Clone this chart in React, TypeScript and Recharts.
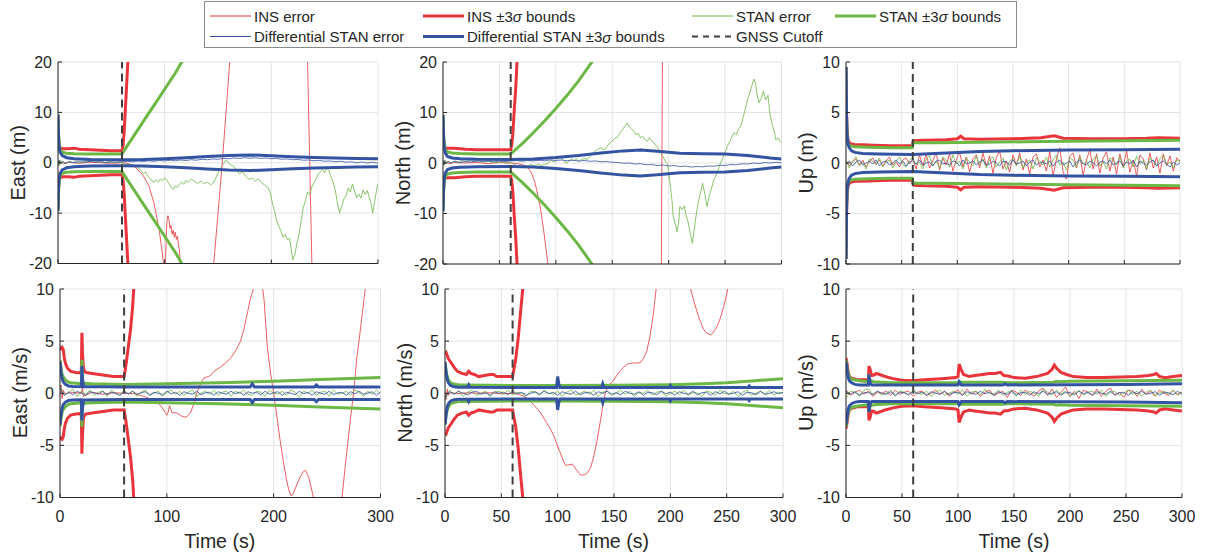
import React from 'react';
import { LineChart, Line, XAxis, YAxis, CartesianGrid, ReferenceLine } from 'recharts';

// ---------- ticks & constants ----------
const posTicksEN = [-20, -10, 0, 10, 20];
const tenTicks = [-10, -5, 0, 5, 10];
const timeTicksCoarse = [0, 100, 200, 300];
const timeTicksFine = [0, 50, 100, 150, 200, 250, 300];
const GNSS_CUTOFF = 60;

type Pair = [number, number];

// ---------- East position (m) ----------
const eastPosInsBound: Pair[] = [[0,9],[0.5,5],[1,3.5],[2,3.0],[4,2.8],[10,2.8],[15,2.9],[20,2.7],[30,2.6],[40,2.5],[50,2.4],[60,2.4],[61,3.5],[62,6],[63,10],[64,14],[65.5,20],[67,28],[70,40]];
const eastPosStanBound: Pair[] = [[0,9.6],[0.5,6],[1,4],[2,2.6],[4,2.1],[8,1.9],[15,1.8],[30,1.75],[60,1.75],[65,3.4],[70,5.0],[80,8.2],[90,11.4],[100,14.6],[110,17.8],[116,20],[125,23],[140,28]];
const eastPosDiffBound: Pair[] = [[0,9.5],[0.5,5],[1,3.2],[2,2.1],[4,1.4],[8,1.0],[15,0.8],[30,0.65],[60,0.6],[80,0.65],[100,0.8],[120,1.0],[140,1.25],[160,1.45],[180,1.55],[200,1.4],[220,1.2],[240,1.05],[260,0.95],[280,0.85],[300,0.8]];
const eastPosInsErr: Pair[] = [[0,0.3],[1,-0.5],[2,0.4],[5,-0.2],[10,0.1],[20,-0.1],[30,0.1],[40,0],[50,-0.1],[60,0],[65,-0.1],[70,-0.5],[75,-1.4],[80,-2.6],[85,-4.5],[90,-8],[95,-13.5],[99,-20],[100,-24],[101,-18],[102,-12],[103,-10.5],[104,-11.2],[105,-13],[106,-12.4],[107,-14.2],[108,-13.4],[109,-14.8],[110,-13.8],[111,-15.2],[112,-14.6],[113,-16.5],[114,-17.5],[115,-23],[120,-45],[140,-45],[146,-20],[154,0],[161,20],[166,45],[228,45],[234,20],[236,0],[238,-20],[242,-45],[300,-60]];
const eastPosStanErr: Pair[] = [[0,0.3],[1,-0.6],[2,0.5],[3,-0.3],[5,0.2],[8,-0.2],[11,0.3],[14,0.0],[17,0.4],[20,-0.1],[24,0.3],[28,0.1],[32,0.5],[36,0.2],[40,0.4],[44,0.0],[48,0.3],[52,-0.1],[56,0.2],[60,0.0],[64,-0.3],[68,-0.4],[72,-0.6],[75,-1.0],[78,-1.6],[80,-2.2],[82,-1.8],[84,-2.6],[86,-3.0],[88,-3.6],[90,-3.9],[92,-3.4],[94,-3.8],[96,-3.2],[98,-3.6],[100,-3.0],[102,-3.4],[104,-4.2],[106,-4.8],[108,-5.3],[110,-4.6],[112,-4.9],[114,-4.2],[116,-3.8],[118,-4.3],[120,-3.5],[122,-3.9],[125,-3.2],[128,-3.7],[131,-4.1],[134,-3.6],[137,-4.2],[140,-3.8],[143,-4.4],[146,-3.9],[149,-2.5],[152,-1.2],[155,-0.3],[157,0.5],[159,0.2],[161,-0.3],[164,-0.6],[167,-1.3],[170,-2.2],[173,-1.8],[176,-2.7],[179,-3.3],[182,-3.0],[185,-3.6],[188,-3.2],[191,-4.0],[194,-4.5],[197,-4.9],[199,-6.0],[201,-8.0],[203,-9.5],[205,-11.5],[207,-12.6],[209,-13.5],[211,-14.8],[213,-14.2],[215,-15.3],[217,-15.0],[219,-17.5],[220,-19.3],[222,-18.2],[224,-16.0],[226,-14.2],[228,-11.5],[230,-8.8],[232,-7.5],[234,-5.8],[236,-6.3],[238,-4.8],[240,-4.0],[242,-3.2],[244,-2.2],[246,-1.8],[248,-1.3],[250,-2.0],[252,-1.0],[254,-1.6],[256,-2.8],[258,-3.9],[260,-5.5],[262,-8.0],[264,-10.0],[266,-8.6],[268,-7.2],[270,-6.6],[272,-5.0],[274,-5.8],[276,-4.2],[278,-5.6],[280,-6.9],[282,-6.2],[284,-7.0],[286,-5.4],[288,-6.3],[290,-5.5],[292,-7.0],[294,-8.5],[295,-10.0],[297,-7.5],[299,-5.0],[300,-4.2]];
const eastPosDiffErr: Pair[] = [[0,-0.3],[1,0.5],[2,-0.2],[4,0.3],[7,-0.1],[10,0.2],[15,0.0],[20,0.2],[25,0.1],[30,0.3],[35,0.1],[40,0.2],[45,0.0],[50,0.2],[55,0.1],[60,0.2],[65,0.3],[70,0.2],[75,0.35],[80,0.25],[85,0.4],[90,0.3],[95,0.45],[100,0.35],[105,0.5],[110,0.4],[115,0.55],[120,0.45],[125,0.6],[130,0.5],[135,0.7],[140,0.6],[145,0.75],[150,0.7],[155,0.85],[160,0.8],[165,0.95],[170,0.85],[175,1.0],[180,0.9],[185,1.0],[190,0.85],[195,0.95],[200,0.8],[205,0.85],[210,0.7],[215,0.75],[220,0.6],[225,0.65],[230,0.5],[235,0.55],[240,0.4],[245,0.45],[250,0.3],[255,0.35],[260,0.2],[265,0.3],[270,0.1],[275,0.2],[280,0.0],[285,0.15],[290,-0.05],[295,0.1],[300,-0.1]];

// ---------- North position (m) ----------
const northPosInsBound: Pair[] = [[0,9],[0.5,5],[1,3.6],[2,3.0],[4,2.9],[10,2.9],[20,2.7],[30,2.6],[45,2.6],[60,2.6],[61,3.6],[62,6],[63,10],[64.5,15],[65.6,20],[68,32],[70,42]];
const northPosStanBound: Pair[] = [[0,9.6],[0.5,6],[1,4],[2,2.6],[4,2.2],[8,2.0],[15,1.9],[30,1.8],[60,1.8],[65,2.8],[70,3.8],[80,6.0],[90,8.3],[100,10.8],[110,13.4],[120,16.2],[132,20],[145,24.5]];
const northPosDiffBound: Pair[] = [[0,9.5],[0.5,5],[1,3.2],[2,2.0],[4,1.3],[8,1.0],[15,0.85],[30,0.75],[60,0.7],[80,0.8],[100,1.1],[120,1.5],[140,2.0],[160,2.4],[175,2.55],[190,2.35],[210,1.95],[230,1.85],[250,1.8],[270,1.5],[290,1.0],[300,0.8]];
const northPosInsErr: Pair[] = [[0,0.2],[1,-0.4],[2,0.3],[5,-0.1],[10,0.1],[20,0],[30,0.1],[40,-0.1],[50,0.1],[60,0],[65,-0.1],[70,-0.3],[74.5,-0.7],[78,-1.8],[81,-3.5],[83,-5.3],[86,-8.5],[89,-13],[91,-16.5],[93,-20],[96,-30],[100,-45],[190,-45],[193.5,-20],[194,0],[194.5,20],[196,45],[300,60]];
const northPosStanErr: Pair[] = [[0,0.4],[1,-0.5],[2,0.6],[3,-0.2],[5,0.3],[8,0.0],[11,0.4],[14,0.1],[17,0.5],[20,0.2],[24,0.6],[28,0.3],[32,0.5],[36,0.1],[40,0.4],[44,0.2],[48,0.0],[52,0.3],[56,-0.1],[60,0.1],[63,-0.3],[66,-0.6],[69,-0.8],[72,-0.5],[75,-0.7],[78,-0.3],[81,-0.6],[84,-0.2],[87,-0.5],[90,-0.3],[93,0.0],[96,0.5],[99,0.2],[102,1.0],[104,1.3],[106,0.6],[108,0.2],[110,0.0],[112,0.5],[114,0.8],[116,0.4],[118,0.9],[120,0.3],[122,0.6],[125,0.9],[128,0.7],[131,1.5],[134,2.2],[137,2.7],[140,3.0],[143,2.6],[146,3.5],[149,4.2],[152,4.8],[155,5.2],[157,6.0],[159,6.6],[161,7.2],[163,7.9],[165,7.2],[167,6.8],[169,6.3],[171,5.6],[173,5.9],[175,5.0],[177,5.3],[179,4.6],[181,4.3],[183,5.0],[185,4.4],[187,4.0],[189,3.5],[191,2.8],[193,2.0],[195,1.2],[197,0.4],[199,-0.3],[201,-3.5],[203,-7.5],[204,-10.6],[206,-12.2],[207.5,-13.6],[209,-11.5],[210,-8.6],[212,-9.2],[214,-8.5],[215,-10.0],[217,-11.5],[219,-13.8],[221,-15.9],[223,-12.5],[225,-9.3],[227,-7.0],[229,-5.2],[230,-4.0],[232,-6.0],[234,-8.6],[236,-6.5],[238,-5.0],[240,-3.3],[242,-2.5],[244,-1.2],[246,0.0],[248,1.0],[250,2.0],[252,3.3],[254,4.2],[256,5.2],[258,6.0],[260,5.6],[262,6.8],[264,7.3],[266,9.0],[268,10.8],[270,12.6],[272,14.0],[274,15.5],[275.5,16.6],[277,15.8],[278,14.0],[280,11.9],[282,12.8],[284,14.2],[286,12.5],[288,13.4],[290,9.3],[292,7.5],[294,5.8],[295,4.6],[297,5.0],[299,4.2],[300,4.0]];
const northPosDiffErr: Pair[] = [[0,-0.4],[1,0.5],[2,-0.2],[4,0.3],[7,0.0],[10,0.3],[15,0.1],[20,0.3],[25,0.2],[30,0.4],[35,0.3],[40,0.4],[45,0.2],[50,0.4],[55,0.3],[60,0.4],[65,0.5],[70,0.35],[75,0.5],[80,0.4],[85,0.55],[90,0.45],[95,0.6],[100,0.5],[105,0.6],[110,0.45],[115,0.55],[120,0.4],[125,0.5],[130,0.35],[135,0.4],[140,0.25],[145,0.3],[150,0.15],[155,0.1],[160,-0.05],[165,0.0],[170,-0.2],[175,-0.15],[180,-0.35],[185,-0.3],[190,-0.5],[195,-0.4],[200,-0.6],[205,-0.5],[210,-0.7],[215,-0.6],[220,-0.8],[225,-0.7],[230,-0.75],[235,-0.6],[240,-0.65],[245,-0.45],[250,-0.5],[255,-0.3],[260,-0.35],[265,-0.15],[270,-0.2],[275,0.0],[280,-0.1],[285,0.1],[290,0.0],[295,0.15],[300,0.05]];

// ---------- Up position (m) ----------
const upPosInsBound: Pair[] = [[0,9.5],[0.5,5],[1,3],[2,2.2],[4,1.9],[8,1.8],[15,1.8],[25,1.75],[40,1.7],[59.5,1.7],[60,2.0],[61,2.2],[70,2.25],[90,2.3],[100,2.4],[103,2.65],[106,2.4],[120,2.35],[150,2.4],[175,2.5],[187,2.7],[195,2.45],[220,2.4],[250,2.4],[270,2.45],[280,2.5],[300,2.45]];
const upPosStanBound: Pair[] = [[0,9.5],[0.5,4.5],[1,2.6],[2,1.9],[4,1.7],[8,1.6],[20,1.55],[40,1.5],[59.5,1.5],[60,1.8],[61,2.0],[80,2.0],[120,2.05],[160,2.1],[200,2.15],[250,2.2],[300,2.25]];
const upPosDiffBound: Pair[] = [[0,9.5],[0.5,4.5],[1,2.6],[2,1.8],[3,1.5],[5,1.2],[8,1.05],[15,0.95],[30,0.9],[60,0.85],[80,0.95],[100,1.05],[120,1.15],[150,1.22],[200,1.28],[250,1.3],[300,1.35]];
const upPosInsErr = [0.2,-0.3,0.1,0.4,-0.2,0.3,-0.4,0.1,0.5,-0.1,0.3,-0.3,0.2,0.6,-0.2,0.1,-0.4,0.3,0.5,-0.1,
  0.4,-0.6,0.8,-0.3,0.9,-0.5,0.2,1.0,-0.7,0.5,-0.2,0.9,-0.8,0.3,1.1,-0.4,0.6,-0.9,0.4,0.8,
  -0.5,1.0,-0.3,0.7,-1.0,0.5,1.2,-0.6,0.2,-0.9,0.8,-0.2,1.0,-0.7,0.4,-1.1,0.6,0.9,-0.4,0.3,
  -0.8,1.1,-1.3,0.4,1.5,-0.9,-1.6,0.7,1.0,-0.5,0.8,-1.2,0.3,1.3,-0.6,0.9,-1.0,0.5,1.1,-0.8,
  0.6,-1.1,0.9,-0.4,1.2,-0.9,0.3,-1.3,0.8,0.4,-0.7,1.0,-0.5,0.6,-1.0,0.9,-0.3,0.7,-0.8,0.5,0.2];
const upPosStanErr = [0.3,-0.5,0.2,0.6,-0.3,0.1,-0.6,0.4,0.2,-0.2,0.5,-0.4,0.1,0.3,-0.5,0.2,0.6,-0.1,-0.4,0.3,
  0.5,-0.2,0.1,-0.6,0.4,0.7,-0.3,0.2,-0.5,0.6,0.3,-0.4,0.8,-0.1,0.2,-0.6,0.5,0.1,-0.3,0.7,
  -0.2,0.4,-0.5,0.3,0.6,-0.4,0.1,0.5,-0.7,0.2,0.4,-0.3,0.7,-0.5,0.1,0.3,-0.6,0.5,0.2,-0.2,
  0.6,-0.4,0.3,0.8,-0.2,0.1,-0.7,0.5,0.3,-0.4,0.6,-0.1,0.2,-0.5,0.4,0.7,-0.3,0.1,-0.6,0.5,
  0.3,-0.2,0.6,-0.5,0.2,0.4,-0.4,0.7,-0.1,0.3,-0.6,0.5,0.2,-0.3,0.4,0.8,-0.2,0.1,-0.5,0.3,0.1];
const upPosDiffErr = [-0.1,0.2,-0.3,0.1,0.3,-0.2,0.0,0.2,-0.1,0.3,-0.3,0.1,0.2,-0.2,0.0,0.3,-0.1,0.2,-0.3,0.1,
  0.2,-0.1,0.3,-0.2,0.0,0.1,-0.3,0.2,0.3,-0.1,0.0,-0.2,0.2,0.1,-0.3,0.3,-0.1,0.0,0.2,-0.2,
  0.1,0.3,-0.2,-0.1,0.2,0.0,-0.3,0.2,0.1,-0.2,0.3,-0.1,0.0,0.2,-0.3,0.1,0.3,-0.2,0.0,0.1,
  -0.1,0.2,-0.3,0.1,0.3,-0.2,0.0,0.2,-0.4,0.1,0.3,-0.1,-0.2,0.2,0.0,-0.3,0.1,0.2,-0.1,0.3,
  -0.2,0.0,0.2,-0.3,0.1,-0.1,0.3,-0.4,0.2,0.0,-0.2,0.1,0.3,-0.3,0.0,0.2,-0.1,-0.4,0.1,-0.2,0.0];

// ---------- East velocity (m/s) ----------
const eastVelInsBound: Pair[] = [[0,4.5],[1,4.3],[2,4.4],[3,4.2],[4,3.4],[5,2.9],[7,2.4],[10,2.1],[15,2.0],[19,1.95],[20,2.2],[20.5,5.8],[21,4],[22,2.3],[24,2.0],[30,1.9],[40,1.75],[50,1.6],[60,1.6],[61,2.2],[62,2.9],[64,4.5],[66,6.1],[68,8.3],[69,10],[72,15]];
const eastVelStanBound: Pair[] = [[0,3.2],[1,2.4],[2,1.8],[4,1.4],[7,1.1],[10,1.0],[15,0.95],[20,0.9],[20.5,3.2],[21,1.2],[22,0.95],[30,0.9],[60,0.85],[100,0.9],[150,1.0],[200,1.15],[250,1.35],[300,1.5]];
const eastVelDiffBound: Pair[] = [[0,3.0],[1,2.0],[2,1.4],[3,1.1],[5,0.85],[8,0.7],[12,0.65],[20,0.62],[20.5,2.6],[21,1.5],[22,0.65],[60,0.6],[120,0.6],[178,0.6],[180,0.9],[182,0.6],[238,0.6],[240,0.8],[242,0.6],[300,0.6]];
const eastVelInsErr: Pair[] = [[0,0],[1,0.8],[2,-0.5],[3,0.3],[5,-0.1],[10,0.1],[20,0],[21,0.5],[22,-0.3],[30,0.1],[40,-0.1],[50,0.05],[60,0],[70,-0.05],[75,-0.2],[80,-0.35],[85,-0.55],[91,-0.8],[95,-1.3],[97,-1.6],[100,-2.1],[101,-1.9],[102.5,-1.2],[104,-1.6],[105,-1.9],[108,-1.85],[111,-2.0],[114,-2.2],[117,-2.3],[119,-2.2],[122,-1.9],[125,-1.1],[128,0.0],[131,0.8],[134.5,1.45],[137,1.55],[139,1.6],[141,1.7],[144,2.1],[147,2.3],[150,2.5],[155,2.9],[160,3.4],[165,4.2],[169,5.0],[172,6.1],[175,7.5],[178,9.0],[182,10.3],[186,10.8],[189,10.5],[191,9.0],[194,4.5],[197,2.0],[200,0.0],[203,-2.2],[206,-4.5],[209,-6.5],[212,-8.3],[214,-9.2],[216,-9.8],[218,-9.7],[220,-9.2],[222,-8.7],[225,-8.0],[228,-7.5],[230,-7.4],[232.7,-8.0],[235,-9.0],[237,-9.9],[240,-11.5],[245,-13.5],[250,-14],[255,-13.5],[260,-12],[264,-10],[267,-7.0],[270,-4.2],[274.7,0],[278,3.5],[282,6.8],[285.7,10],[290,14]];
const eastVelStanErr = [0.8,-0.2,0.1,0.4,-0.3,0.2,-0.1,0.3,-0.2,0.1,0.2,-0.3,0.3,0.0,-0.2,0.3,-0.1,0.2,-0.3,0.1,
  0.3,-0.2,0.0,0.2,-0.3,0.1,0.3,-0.1,0.2,-0.2,0.1,0.3,-0.3,0.0,0.2,-0.1,0.3,-0.2,0.1,0.2,
  -0.3,0.2,0.0,0.3,-0.1,-0.2,0.2,0.1,-0.3,0.3,0.0,-0.1,0.2,-0.2,0.3,0.1,-0.4,0.2,0.0,0.3,
  -0.2,0.1,0.2,-0.3,0.3,-0.1,0.0,0.2,-0.2,0.3,0.1,-0.3,0.2,-0.1,0.3,0.0];
const eastVelDiffErr = [0.5,-0.2,0.1,-0.15,0.2,0.0,-0.2,0.15,0.05,-0.1,0.2,-0.15,0.1,0.0,-0.2,0.15,-0.05,0.2,-0.1,0.05,
  0.15,-0.2,0.1,0.0,-0.15,0.2,-0.05,0.1,-0.2,0.15,0.0,-0.1,0.2,-0.15,0.05,0.1,-0.2,0.15,0.0,-0.1,
  0.2,-0.05,0.1,-0.2,0.15,0.0,0.1,-0.15,0.2,-0.1,0.05,0.15,-0.2,0.1,0.0,-0.15,0.2,-0.05,0.1,-0.2,
  0.15,0.0,-0.1,0.2,-0.15,0.05,0.1,-0.2,0.15,-0.05,0.2,-0.1,0.0,0.15,-0.2,0.1];

// ---------- North velocity (m/s) ----------
const northVelInsBound: Pair[] = [[0,3.8],[1,3.9],[2,3.6],[3,3.3],[5,3.0],[8,2.5],[11,2.1],[15,1.9],[19,1.8],[21,2.1],[23,1.9],[26,1.8],[30,1.6],[35,1.7],[40,1.8],[43,1.8],[46,1.6],[50,1.6],[60,1.6],[61,2.2],[62.7,3.2],[65,5.3],[67,7.7],[69,10],[72,14]];
const northVelStanBound: Pair[] = [[0,3.0],[1,2.1],[2,1.6],[3,1.3],[5,1.0],[8,0.9],[12,0.8],[20,0.78],[60,0.75],[100,0.75],[150,0.77],[200,0.82],[230,0.9],[250,1.0],[275,1.2],[300,1.4]];
const northVelDiffBound: Pair[] = [[0,3.0],[1,2.0],[2,1.3],[3,1.0],[5,0.75],[8,0.62],[12,0.58],[20,0.57],[21,0.8],[22,0.57],[60,0.56],[99,0.56],[100,1.6],[101,0.9],[102,0.56],[139,0.56],[140,0.9],[141,0.56],[199,0.56],[200,0.75],[201,0.56],[269,0.56],[270,0.7],[271,0.56],[300,0.56]];
const northVelInsErr: Pair[] = [[0,0.1],[1,-0.6],[2,0.4],[3,-0.2],[5,0.1],[10,-0.05],[20,0.05],[30,0],[40,0.05],[50,-0.05],[60,0],[65,-0.1],[70,-0.3],[73,-0.5],[77,-0.9],[81,-1.4],[85,-1.9],[90,-2.8],[94,-3.5],[97,-4.2],[100,-5.1],[103,-5.9],[105.5,-6.6],[107,-6.9],[108.5,-6.9],[110,-6.85],[113,-6.8],[115,-7.1],[117,-7.4],[120,-7.8],[122,-7.85],[124,-7.8],[126,-7.7],[129,-7.2],[132,-6.1],[135,-4.5],[138,-2.6],[140,-1.3],[142.5,0.16],[145,0.7],[150,1.3],[153,1.8],[156,2.2],[159,2.55],[162,2.8],[166,2.9],[170,2.9],[173.5,2.95],[176,3.3],[179,4.0],[182,5.5],[185,7.7],[187.4,10],[190,13],[200,18],[210,16],[215,12],[218,10],[221,8.8],[224,7.7],[227,6.8],[229.7,6.1],[232,5.8],[235.6,5.6],[238,5.8],[241.5,6.4],[244,7.1],[247.4,8.3],[251,10],[255,13]];
const northVelStanErr = [-0.6,0.3,-0.1,0.2,-0.3,0.1,0.3,-0.2,0.0,0.2,-0.3,0.1,0.2,-0.1,0.3,-0.2,0.1,0.0,-0.3,0.2,
  0.1,-0.2,0.3,0.0,-0.1,0.2,-0.3,0.1,0.3,-0.2,0.0,0.2,-0.1,0.3,-0.3,0.1,0.2,-0.2,0.0,0.3,
  -0.1,0.2,-0.3,0.1,0.0,0.3,-0.2,0.1,0.2,-0.3,0.0,0.2,-0.1,0.3,-0.2,0.1,0.0,-0.3,0.2,0.1,
  -0.2,0.3,0.0,-0.1,0.2,-0.3,0.1,0.3,-0.2,0.0,0.2,-0.1,0.3,-0.2,0.1,0.0];
const northVelDiffErr = [-0.4,0.15,-0.1,0.2,0.0,-0.15,0.1,0.2,-0.1,0.05,-0.2,0.15,0.0,0.1,-0.15,0.2,-0.05,0.1,-0.2,0.0,
  0.15,-0.1,0.2,-0.05,0.1,-0.2,0.15,0.0,-0.1,0.2,-0.15,0.05,0.1,-0.2,0.15,0.0,0.2,-0.1,0.05,-0.15,
  0.2,0.0,-0.1,0.15,-0.2,0.1,0.05,-0.15,0.2,-0.05,0.1,-0.2,0.15,0.0,-0.1,0.2,-0.15,0.05,0.1,-0.2,
  0.15,-0.05,0.2,-0.1,0.0,0.15,-0.2,0.1,0.05,-0.15,0.2,-0.1,0.0,0.15,-0.05,0.1];

// ---------- Up velocity (m/s) ----------
const upVelInsBound: Pair[] = [[0,3.4],[1,2.8],[2,2.0],[3,1.6],[5,1.45],[10,1.3],[15,1.3],[20,1.3],[20.5,2.6],[21.5,2.3],[23,1.7],[25,1.75],[27,1.9],[30,1.8],[35,1.6],[42,1.4],[50,1.25],[60,1.2],[70,1.3],[85,1.4],[98,1.5],[100,1.6],[101,2.8],[103,2.2],[105,1.8],[110,1.6],[115,1.7],[122,1.8],[128,1.9],[133,1.9],[138,2.0],[141,1.7],[145,1.65],[150,1.5],[160,1.45],[170,1.6],[180,1.9],[184,2.3],[186,2.7],[188,2.4],[192,2.0],[197,1.8],[203,1.6],[215,1.5],[230,1.5],[245,1.55],[260,1.6],[270,1.7],[275,1.8],[277,1.9],[280,1.6],[285,1.5],[292,1.6],[300,1.7]];
const upVelStanBound: Pair[] = [[0,3.2],[1,2.4],[2,1.8],[4,1.4],[7,1.3],[12,1.2],[20,1.1],[20.5,1.8],[21.5,1.2],[25,1.1],[40,1.0],[60,1.0],[100,1.0],[102,1.05],[140,1.05],[145,1.0],[185,1.05],[188,1.15],[190,1.1],[200,1.15],[250,1.2],[300,1.25]];
const upVelDiffBound: Pair[] = [[0,3.0],[1,2.2],[2,1.5],[3,1.2],[5,1.0],[8,0.85],[12,0.8],[20,0.8],[20.5,1.8],[21.5,1.0],[23,0.8],[60,0.78],[100,0.78],[101,1.1],[103,0.8],[140,0.8],[142,0.9],[144,0.8],[200,0.82],[250,0.85],[300,0.9]];
const upVelInsErr = [0.3,-0.2,0.1,0.3,-0.1,0.2,-0.3,0.1,0.0,0.2,-0.2,0.3,-0.1,0.1,0.2,-0.3,0.1,0.2,-0.2,0.0,
  0.3,-0.1,0.2,-0.3,0.1,0.3,-0.2,0.4,-0.1,0.2,-0.3,0.1,0.3,-0.2,0.0,0.2,-0.4,0.3,0.1,-0.2,
  0.3,0.0,-0.3,0.2,0.5,-0.2,0.4,-0.4,0.1,0.6,-0.3,0.2,-0.5,0.3,0.1,-0.2,0.4,-0.3,0.2,0.5,
  -0.2,0.1,-0.4,0.3,0.2,-0.3,0.4,-0.1,0.2,-0.3,0.3,0.0,-0.2,0.3,-0.1,0.1];
const upVelStanErr = [-0.5,0.2,0.1,-0.3,0.3,0.4,-0.1,0.2,-0.2,0.0,0.3,-0.3,0.2,0.1,-0.2,0.3,0.0,-0.1,0.2,-0.3,
  0.1,0.3,-0.2,0.0,0.2,-0.1,0.3,-0.3,0.1,0.2,-0.2,0.4,0.0,-0.1,0.3,-0.2,0.1,0.2,-0.3,0.3,
  -0.1,0.2,0.0,-0.3,0.4,0.1,-0.2,0.3,-0.1,0.2,-0.3,0.0,0.3,-0.2,0.1,0.2,-0.1,0.3,-0.3,0.1,
  0.2,-0.2,0.0,0.3,-0.1,0.2,-0.3,0.1,0.3,-0.2,0.0,0.2,-0.1,0.3,-0.2,0.1];
const upVelDiffErr = [0.2,-0.1,0.15,-0.2,0.05,0.1,-0.15,0.2,0.0,-0.1,0.15,-0.2,0.1,0.05,-0.15,0.2,-0.05,0.1,-0.2,0.15,
  0.0,-0.1,0.2,-0.15,0.05,0.1,-0.2,0.15,0.0,-0.1,0.2,-0.05,0.1,-0.2,0.15,0.0,-0.1,0.2,-0.15,0.05,
  0.1,-0.2,0.15,-0.05,0.2,-0.1,0.0,0.15,-0.2,0.1,0.05,-0.15,0.2,-0.05,0.1,-0.2,0.15,0.0,-0.1,0.2,
  -0.15,0.05,0.1,-0.2,0.15,-0.05,0.2,-0.1,0.0,0.15,-0.2,0.1,0.05,-0.15,0.2,-0.1];

// ---------- helpers ----------
type P = { t: number; v: number };
const pts = (p: Pair[]): P[] => p.map(([t, v]) => ({ t, v }));
const negPts = (p: Pair[]): P[] => p.map(([t, v]) => ({ t, v: -v }));
const sampled = (vals: number[]): P[] => vals.map((v, i) => ({ t: (i * 300) / (vals.length - 1), v }));

const RED = '#e8343a';
const GREEN = '#6cb845';
const BLUE = '#3353a3';
const CUT = '#3f3f3f';
const INK = '#262626';
const FONT = '"Liberation Sans", Arial, Helvetica, sans-serif';

interface PanelSpec {
  x: number; y: number; w: number; h: number;
  yDomain: [number, number]; yTicks: number[]; xTicks: number[]; showX: boolean;
  insErr: P[]; insBound: Pair[]; stanErr: P[]; stanBound: Pair[]; diffErr: P[]; diffBound: Pair[];
}

// plot-area rectangles (pixels)
const BOX = [
  [ { x: 58, w: 320, y: 62, h: 201.5 }, { x: 442.5, w: 338.5, y: 62, h: 202 }, { x: 846, w: 334, y: 62, h: 202 } ],
  [ { x: 59.5, w: 320.5, y: 288.5, h: 208.5 }, { x: 444.5, w: 338, y: 288.5, h: 208.5 }, { x: 846, w: 336, y: 288.5, h: 208.5 } ],
];

const panels: PanelSpec[] = [
  { ...BOX[0][0], yDomain: [-20, 20], yTicks: posTicksEN, xTicks: timeTicksCoarse, showX: false,
    insErr: pts(eastPosInsErr), insBound: eastPosInsBound, stanErr: pts(eastPosStanErr), stanBound: eastPosStanBound, diffErr: pts(eastPosDiffErr), diffBound: eastPosDiffBound },
  { ...BOX[0][1], yDomain: [-20, 20], yTicks: posTicksEN, xTicks: timeTicksFine, showX: false,
    insErr: pts(northPosInsErr), insBound: northPosInsBound, stanErr: pts(northPosStanErr), stanBound: northPosStanBound, diffErr: pts(northPosDiffErr), diffBound: northPosDiffBound },
  { ...BOX[0][2], yDomain: [-10, 10], yTicks: tenTicks, xTicks: timeTicksFine, showX: false,
    insErr: sampled(upPosInsErr), insBound: upPosInsBound, stanErr: sampled(upPosStanErr), stanBound: upPosStanBound, diffErr: sampled(upPosDiffErr), diffBound: upPosDiffBound },
  { ...BOX[1][0], yDomain: [-10, 10], yTicks: tenTicks, xTicks: timeTicksCoarse, showX: true,
    insErr: pts(eastVelInsErr), insBound: eastVelInsBound, stanErr: sampled(eastVelStanErr), stanBound: eastVelStanBound, diffErr: sampled(eastVelDiffErr), diffBound: eastVelDiffBound },
  { ...BOX[1][1], yDomain: [-10, 10], yTicks: tenTicks, xTicks: timeTicksFine, showX: true,
    insErr: pts(northVelInsErr), insBound: northVelInsBound, stanErr: sampled(northVelStanErr), stanBound: northVelStanBound, diffErr: sampled(northVelDiffErr), diffBound: northVelDiffBound },
  { ...BOX[1][2], yDomain: [-10, 10], yTicks: tenTicks, xTicks: timeTicksFine, showX: true,
    insErr: sampled(upVelInsErr), insBound: upVelInsBound, stanErr: sampled(upVelStanErr), stanBound: upVelStanBound, diffErr: sampled(upVelDiffErr), diffBound: upVelDiffBound },
];

const yLabels = ['East (m)', 'North (m)', 'Up (m)', 'East (m/s)', 'North (m/s)', 'Up (m/s)'];

function Panel({ p }: { p: PanelSpec }) {
  const yW = 60, mT = 10, mR = 16;
  const xH = p.showX ? 40 : 14;
  const w = yW + p.w + mR;
  const h = mT + p.h + xH;
  const tickFont = { fontSize: 16, fill: INK, fontFamily: FONT };
  const common = { xAxisId: 'b', yAxisId: 'l', dataKey: 'v', dot: false, activeDot: false, isAnimationActive: false, type: 'linear' as const };
  return (
    <div style={{ position: 'absolute', left: p.x - yW, top: p.y - mT }}>
      <LineChart width={w} height={h} margin={{ top: mT, right: mR, left: 0, bottom: 0 }}>
        <CartesianGrid xAxisId="b" yAxisId="l" stroke="#e3e3e3" strokeWidth={1} />
        <XAxis xAxisId="b" dataKey="t" type="number" domain={[0, 300]} ticks={p.xTicks} interval={0} allowDataOverflow
          height={xH} tickSize={-4} tickMargin={17} axisLine={{ stroke: INK }} tickLine={{ stroke: INK }}
          tick={tickFont} tickFormatter={(v: number) => (p.showX ? String(v) : '')} />
        <XAxis xAxisId="t" orientation="top" dataKey="t" type="number" domain={[0, 300]} ticks={p.xTicks} interval={0} allowDataOverflow
          mirror height={0} tickSize={4} axisLine={{ stroke: INK }} tickLine={{ stroke: INK }} tickFormatter={() => ''} />
        <YAxis yAxisId="l" type="number" domain={p.yDomain} ticks={p.yTicks} interval={0} allowDataOverflow
          width={yW} tickSize={-4} tickMargin={10} axisLine={{ stroke: INK }} tickLine={{ stroke: INK }} tick={tickFont} />
        <YAxis yAxisId="r" orientation="right" type="number" domain={p.yDomain} ticks={p.yTicks} interval={0} allowDataOverflow
          mirror width={0} tickSize={4} axisLine={{ stroke: INK }} tickLine={{ stroke: INK }} tickFormatter={() => ''} />
        <Line {...common} data={p.insErr} stroke={RED} strokeWidth={0.8} />
        <Line {...common} data={pts(p.insBound)} stroke={RED} strokeWidth={3} />
        <Line {...common} data={negPts(p.insBound)} stroke={RED} strokeWidth={3} />
        <Line {...common} data={p.stanErr} stroke={GREEN} strokeWidth={0.8} />
        <Line {...common} data={pts(p.stanBound)} stroke={GREEN} strokeWidth={3} />
        <Line {...common} data={negPts(p.stanBound)} stroke={GREEN} strokeWidth={3} />
        <Line {...common} data={p.diffErr} stroke={BLUE} strokeWidth={0.8} />
        <Line {...common} data={pts(p.diffBound)} stroke={BLUE} strokeWidth={3} />
        <Line {...common} data={negPts(p.diffBound)} stroke={BLUE} strokeWidth={3} />
        <ReferenceLine xAxisId="b" yAxisId="l" x={GNSS_CUTOFF} stroke={CUT} strokeWidth={2} strokeDasharray="8 5" />
      </LineChart>
    </div>
  );
}

const legendRows = [
  [
    { x: 210, label: 'INS error', color: RED, width: 1, dash: '' },
    { x: 423, label: 'INS ±3', sig: true, color: RED, width: 3, dash: '' },
    { x: 692, label: 'STAN error', color: GREEN, width: 1, dash: '' },
    { x: 835, label: 'STAN ±3', sig: true, color: GREEN, width: 3, dash: '' },
  ],
  [
    { x: 210, label: 'Differential STAN error', color: BLUE, width: 1, dash: '' },
    { x: 423, label: 'Differential STAN ±3', sig: true, color: BLUE, width: 3, dash: '' },
    { x: 692, label: 'GNSS Cutoff', color: CUT, width: 2, dash: '6 5' },
  ],
];

function Overlay() {
  return (
    <svg width={1206} height={556} style={{ position: 'absolute', left: 0, top: 0, pointerEvents: 'none' }}>
      <rect x={204.5} y={1.5} width={812} height={46} fill="#fff" stroke="#8a8a8a" strokeWidth={1} />
      {legendRows.map((row, ri) =>
        row.map((e, i) => {
          const y = ri === 0 ? 16 : 36.5;
          return (
            <g key={`${ri}-${i}`}>
              <line x1={e.x} x2={e.x + 41} y1={y} y2={y} stroke={e.color} strokeWidth={e.width} strokeDasharray={e.dash || undefined} />
              <text x={e.x + 44} y={y} dominantBaseline="central" fontSize={15} fill={INK} fontFamily={FONT}>
                {e.label}
                {e.sig ? <tspan fontStyle="italic">σ</tspan> : null}
                {e.sig ? ' bounds' : null}
              </text>
            </g>
          );
        })
      )}
      {panels.map((p, i) => {
        const cx = p.x - 40;
        const cy = p.y + p.h / 2;
        return (
          <text key={`yl${i}`} x={cx} y={cy} transform={`rotate(-90 ${cx} ${cy})`} textAnchor="middle" dominantBaseline="central"
            fontSize={20} fill={INK} fontFamily={FONT}>{yLabels[i]}</text>
        );
      })}
      {panels.filter((p) => p.showX).map((p, i) => (
        <text key={`xl${i}`} x={p.x + p.w / 2} y={541} textAnchor="middle" dominantBaseline="central" fontSize={19.5} fill={INK} fontFamily={FONT}>Time (s)</text>
      ))}
    </svg>
  );
}

export default function App() {
  return (
    <div style={{ position: 'absolute', left: 0, top: 0, width: 1206, height: 556, background: '#fff', overflow: 'hidden' }}>
      {panels.map((p, i) => <Panel key={i} p={p} />)}
      <Overlay />
    </div>
  );
}
